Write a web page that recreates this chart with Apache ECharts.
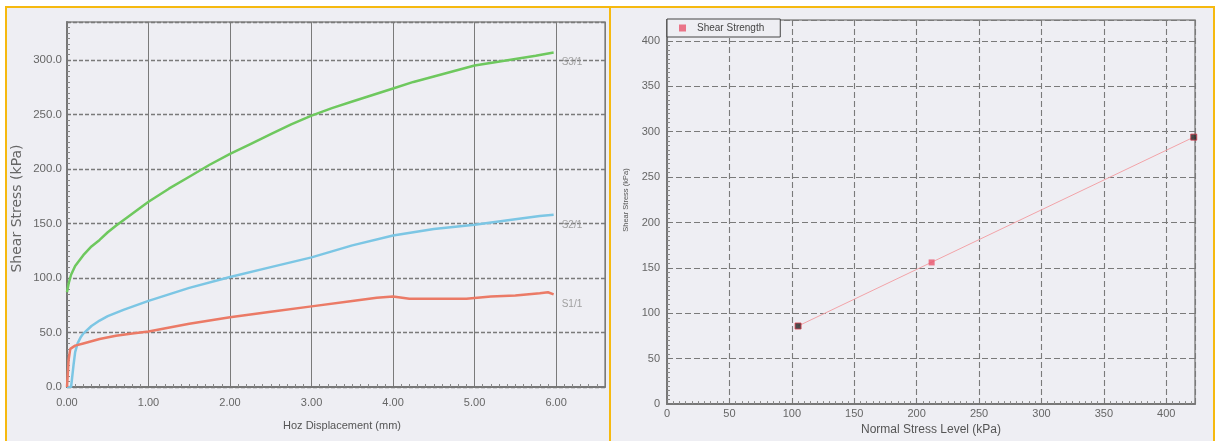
<!DOCTYPE html>
<html>
<head>
<meta charset="utf-8">
<script src="https://cdn.jsdelivr.net/npm/echarts@6/dist/echarts.min.js"></script>
<style>
html,body{margin:0;padding:0;background:#fff;width:1217px;height:441px;overflow:hidden;}
.panel{position:absolute;box-sizing:border-box;background:#eeeef3;border-top:2px solid #f6b90f;border-left:2px solid #f6b90f;}
#p1{left:5px;top:6px;width:605px;height:440px;}
#p2{left:609px;top:6px;width:606px;height:440px;border-right:2px solid #f6b90f;}
#chart{position:absolute;left:0;top:0;width:1217px;height:441px;}
</style>
</head>
<body>
<div class="panel" id="p1"></div>
<div class="panel" id="p2"></div>
<div id="chart"></div>
<script>
// ---- Left chart: shear stress vs horizontal displacement ----
const s3Disp   = [0,0.02,0.05,0.1,0.2,0.3,0.4,0.5,0.6,0.8,1.0,1.25,1.5,1.75,2.0,2.25,2.5,2.75,3.0,3.25,3.5,3.75,4.0,4.25,4.5,4.75,5.0,5.25,5.5,5.75,5.97];
const s3Stress = [87,95,103,111,121,129,135,142,148,159,170,182,193,204,214,223,232,241,249,256,262,268,274,280,285,290,295,298,301,304,307];
const s2Disp   = [0,0.05,0.08,0.1,0.13,0.17,0.2,0.3,0.4,0.5,0.7,1.0,1.5,2.0,2.5,3.0,3.5,4.0,4.5,5.0,5.5,5.8,5.97];
const s2Stress = [0,0,20,32,40,46,49,56,61,65,71,79,91,101,110,119,130,139,145,149,154,157,158];
const s1Disp   = [0,0.02,0.04,0.1,0.2,0.4,0.6,0.8,1.0,1.5,2.0,2.5,3.0,3.5,3.8,4.0,4.2,4.6,4.9,5.2,5.5,5.8,5.9,5.97];
const s1Stress = [0,25,35,38,40,44,47,49,51,58,64,69,74,79,82,83,81,81,81,83,84,86,87,85];
const seriesNames = ['S3/1','S2/1','S1/1'];

// ---- Right chart: shear strength vs normal stress ----
const normalStress  = [105, 212, 422];
const shearStrength = [86, 156, 294];
const trendNormal   = [105, 422];
const trendShear    = [86, 294];

const zip = (a,b) => a.map((v,i)=>[v,b[i]]);
const font = 'Liberation Sans, Arial, sans-serif';
const gridDashL = {color:'#7a7a7a', width:1.3, type:[4,2]};
const gridDashR = {color:'#7a7a7a', width:1.1, type:[6,3]};

const chart = echarts.init(document.getElementById('chart'), null, {renderer:'canvas'});
chart.setOption({
  backgroundColor:'transparent',
  animation:false,
  textStyle:{fontFamily:font},
  legend:{
    data:['Shear Strength'], left:667, top:19, orient:'horizontal',
    borderColor:'#444', borderWidth:1, borderRadius:0, padding:[4,16,4,12],
    icon:'rect', itemWidth:7, itemHeight:7,
    textStyle:{fontSize:10, color:'#444', fontFamily:font, padding:[0,0,0,6]},
    backgroundColor:'#eeeef3'
  },
  grid:[
    {left:67, top:22, width:538, height:365, show:true, borderColor:'#8a8a8a', borderWidth:1.5, backgroundColor:'transparent'},
    {left:667, top:20, width:528, height:387, show:true, borderColor:'#8a8a8a', borderWidth:1.5, backgroundColor:'transparent'}
  ],
  xAxis:[
    {gridIndex:0, type:'value', min:0, max:6.6, interval:1,
     name:'Hoz Displacement (mm)', nameLocation:'middle', nameGap:33,
     nameTextStyle:{fontSize:11, color:'#555', padding:[0,0,0,12]},
     axisLine:{show:true, lineStyle:{color:'#777', width:2}},
     axisTick:{show:true, inside:true, length:4, lineStyle:{color:'#777'}},
     minorTick:{show:true, splitNumber:10, length:3, lineStyle:{color:'#888'}},
     axisLabel:{formatter:v=>v.toFixed(2), showMaxLabel:false, fontSize:11, color:'#666', margin:10},
     splitLine:{show:true, lineStyle:{color:'#7a7a7a', width:1}}},
    {gridIndex:1, type:'value', min:0, max:423, interval:50,
     name:'Normal Stress Level (kPa)', nameLocation:'middle', nameGap:18,
     nameTextStyle:{fontSize:12, color:'#555'},
     axisLine:{show:true, lineStyle:{color:'#777', width:2}},
     axisTick:{show:true, inside:true, length:4, lineStyle:{color:'#777'}},
     minorTick:{show:true, splitNumber:10, length:3, lineStyle:{color:'#888'}},
     axisLabel:{showMaxLabel:false, fontSize:11, color:'#666', margin:4},
     splitLine:{show:true, lineStyle:gridDashR}}
  ],
  yAxis:[
    {gridIndex:0, type:'value', min:0, max:335, interval:50,
     name:'Shear Stress (kPa)', nameLocation:'middle', nameGap:43,
     nameTextStyle:{fontSize:14, color:'#666', fontFamily:'DejaVu Sans', padding:[0,8,0,0]},
     axisLine:{show:true, lineStyle:{color:'#777', width:2}},
     axisTick:{show:true, inside:true, length:4, lineStyle:{color:'#777'}},
     minorTick:{show:true, splitNumber:10, length:3, lineStyle:{color:'#888'}},
     axisLabel:{formatter:v=>v.toFixed(1), showMaxLabel:false, fontSize:11.5, color:'#666', margin:5},
     splitLine:{show:true, lineStyle:gridDashL}},
    {gridIndex:1, type:'value', min:0, max:423, interval:50,
     name:'Shear Stress (kPa)', nameLocation:'middle', nameGap:37,
     nameTextStyle:{fontSize:7.5, color:'#555', padding:[0,0,0,24]},
     axisLine:{show:true, lineStyle:{color:'#777', width:2}},
     axisTick:{show:true, inside:true, length:4, lineStyle:{color:'#777'}},
     minorTick:{show:true, splitNumber:10, length:3, lineStyle:{color:'#888'}},
     axisLabel:{showMaxLabel:false, fontSize:11, color:'#666', margin:7},
     splitLine:{show:true, lineStyle:gridDashR}}
  ],
  series:[
    {name:seriesNames[0], type:'line', xAxisIndex:0, yAxisIndex:0, data:zip(s3Disp,s3Stress),
     showSymbol:false, smooth:false, lineStyle:{color:'#6ec85e', width:2.5}, itemStyle:{color:'#6ec85e'},
     endLabel:{show:true, formatter:'{a}', color:'#a0a0a0', fontSize:10, offset:[0,10]}},
    {name:seriesNames[1], type:'line', xAxisIndex:0, yAxisIndex:0, data:zip(s2Disp,s2Stress),
     showSymbol:false, lineStyle:{color:'#7cc6e4', width:2.5}, itemStyle:{color:'#7cc6e4'},
     endLabel:{show:true, formatter:'{a}', color:'#a0a0a0', fontSize:10, offset:[0,10]}},
    {name:seriesNames[2], type:'line', xAxisIndex:0, yAxisIndex:0, data:zip(s1Disp,s1Stress),
     showSymbol:false, lineStyle:{color:'#eb7a66', width:2.5}, itemStyle:{color:'#eb7a66'},
     endLabel:{show:true, formatter:'{a}', color:'#a0a0a0', fontSize:10, offset:[0,10]}},
    {name:'Trend', type:'line', xAxisIndex:1, yAxisIndex:1, data:zip(trendNormal,trendShear),
     showSymbol:false, lineStyle:{color:'#f2a3a8', width:1}, z:2},
    {name:'Shear Strength', type:'scatter', xAxisIndex:1, yAxisIndex:1, symbol:'rect', symbolSize:6,
     itemStyle:{color:'#e8556d'}, z:3,
     data:zip(normalStress,shearStrength).map((p,i)=>({value:p,
       itemStyle: i===1 ? {color:'#e8556d'} : {color:'#222', borderColor:'#d43a4a', borderWidth:1}}))}
  ]
});
</script>
</body>
</html>
